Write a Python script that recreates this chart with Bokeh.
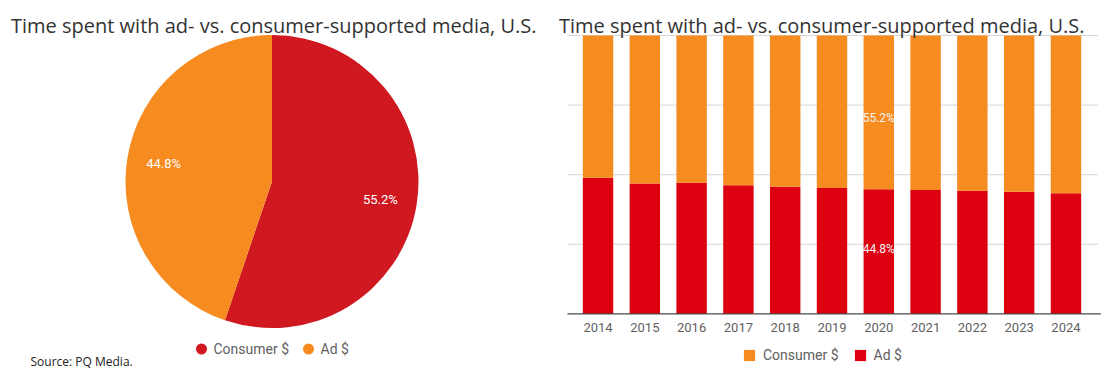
import math
from bokeh.plotting import figure
from bokeh.models import (Range1d, FactorRange, Label, Legend, LegendItem,
                          ColumnDataSource)
from bokeh.layouts import row
from bokeh.embed import file_html
from bokeh.resources import INLINE
from bokeh.core.properties import value

# ---------------- data ----------------
title_text = "Time spent with ad- vs. consumer-supported media, U.S."
source_text = "Source: PQ Media."

pie_labels = ["Consumer $", "Ad $"]
pie_values = [55.2, 44.8]
pie_colors = ["#CF1820", "#F68B1F"]

years = ["2014", "2015", "2016", "2017", "2018", "2019", "2020", "2021", "2022", "2023", "2024"]
ad_share = [48.9, 46.8, 47.1, 46.2, 45.7, 45.2, 44.8, 44.5, 44.2, 43.9, 43.3]
consumer_share = [51.1, 53.2, 52.9, 53.8, 54.3, 54.8, 55.2, 55.5, 55.8, 56.1, 56.7]
grid_ticks = [25, 50, 75, 100]
bar_labels = ["Consumer $", "Ad $"]
bar_colors = ["#F68B1F", "#DC0010"]
labelled_year = "2020"

ROBOTO = value("Roboto")
H = 375

# ---------------- left: pie ----------------
p1 = figure(width=555, height=H, x_range=Range1d(0, 555), y_range=Range1d(0, H),
            output_backend="svg", toolbar_location=None, x_axis_location=None,
            y_axis_location=None, min_border=0, outline_line_color=None)
p1.grid.visible = False

cx, cy, rad = 271.5, H - 181.0, 146.5
total = sum(pie_values)
start = math.pi / 2
starts, ends, mids = [], [], []
for v in pie_values:
    sweep = 2 * math.pi * v / total
    starts.append(start)
    ends.append(start - sweep)
    mids.append(start - sweep / 2)
    start -= sweep

pie_src = ColumnDataSource(dict(x=[cx] * len(pie_values), y=[cy] * len(pie_values),
                                start=starts, end=ends, color=pie_colors,
                                lx=[cx + 0.75 * rad * math.cos(m) for m in mids],
                                ly=[cy + 0.75 * rad * math.sin(m) for m in mids],
                                txt=[f"{v}%" for v in pie_values]))
p1.wedge(x="x", y="y", radius=rad, radius_units="screen", start_angle="start",
         end_angle="end", direction="clock", fill_color="color", line_color=None,
         source=pie_src)
p1.text(x="lx", y="ly", text="txt", source=pie_src, text_color="white",
        text_font=ROBOTO, text_font_size="13px", text_align="center",
        text_baseline="middle")

# pie legend
leg_x = [201, 308]
leg_src = ColumnDataSource(dict(x=leg_x, y=[H - 348.5] * 2, color=pie_colors,
                                tx=[x + 12 for x in leg_x], label=pie_labels))
p1.scatter(x="x", y="y", size=11, marker="circle", fill_color="color",
           line_color=None, source=leg_src)
p1.text(x="tx", y="y", text="label", source=leg_src, text_color="#616161",
        text_font=ROBOTO, text_font_size="14px", text_baseline="middle")

p1.add_layout(Label(x=10.5, y=H - 25, text=title_text, text_font="Open Sans",
                    text_font_size="20px", text_color="#333333",
                    text_baseline="alphabetic"))
p1.add_layout(Label(x=30, y=H - 361, text=source_text, text_font="Open Sans",
                    text_font_size="12px", text_color="#222222",
                    text_baseline="middle"))

# ---------------- right: stacked bars ----------------
W2 = 553
frame_l, frame_r = 558.0 - 555, 1105.0 - 555      # frame edges inside this canvas
first_c, step = 597.5 - 555, 46.75                 # first bar centre, category step
pad = (first_c - frame_l) / step - 0.5
top_px, base_px = 35.0, 313.4                      # canvas rows of 100 % and 0 %
px_per = (base_px - top_px) / 100.0
y0 = -(H - base_px) / px_per
y1 = 100 + top_px / px_per
gx0 = -pad + (567 - 555 - frame_l) / step           # grid line extent (synthetic x)
gx1 = -pad + (1097 - 555 - frame_l) / step

p2 = figure(width=W2, height=H,
            x_range=FactorRange(factors=years, range_padding=pad,
                                range_padding_units="absolute"),
            y_range=Range1d(y0, y1), output_backend="svg", toolbar_location=None,
            x_axis_location=None, y_axis_location=None,
            min_border_left=int(frame_l), min_border_right=int(W2 - frame_r),
            min_border_top=0, min_border_bottom=0, outline_line_color=None)
p2.grid.visible = False

# horizontal grid lines
p2.segment(x0=[gx0] * len(grid_ticks), x1=[gx1] * len(grid_ticks),
           y0=grid_ticks, y1=grid_ticks, line_color="#d6d6d6", line_width=1)

bar_src = ColumnDataSource(dict(year=years, ad=ad_share, consumer=consumer_share))
rs = p2.vbar_stack(["ad", "consumer"], x="year", width=0.65,
                   color=[bar_colors[1], bar_colors[0]], line_color=None,
                   source=bar_src)

# baseline (axis line) and year labels
p2.segment(x0=[gx0], x1=[gx1 + 0.06], y0=[0], y1=[0], line_color="#4a4a4a",
           line_width=1.3)
p2.text(x=years, y=[0] * len(years), text=years, y_offset=14,
        text_color="#616161", text_font=ROBOTO, text_font_size="13px",
        text_align="center", text_baseline="middle")

idx = years.index(labelled_year)
a, c = ad_share[idx], consumer_share[idx]
lab_src = ColumnDataSource(dict(x=[labelled_year, labelled_year],
                                y=[a / 2, a + c / 2],
                                txt=[f"{a}%", f"{c}%"],
                                yo=[-3, 6]))
p2.text(x="x", y="y", text="txt", y_offset="yo", source=lab_src,
        text_color="#f4f4f4", text_font=ROBOTO, text_font_size="12px",
        text_align="center", text_baseline="middle")

legend = Legend(items=[LegendItem(label=bar_labels[0], renderers=[rs[1]]),
                       LegendItem(label=bar_labels[1], renderers=[rs[0]])],
                location=(742 - 555 - frame_l, 12), orientation="horizontal",
                glyph_width=14, glyph_height=14, label_standoff=7, spacing=14,
                padding=0, margin=0, border_line_color=None,
                background_fill_alpha=0, label_text_font="Roboto",
                label_text_font_size="14px", label_text_color="#616161")
p2.add_layout(legend)

p2.add_layout(Label(x=558.5 - 555 - frame_l, y=H - 25, x_units="screen",
                    y_units="screen", text=title_text, text_font="Open Sans",
                    text_font_size="20px", text_color="#333333",
                    text_baseline="alphabetic"))

layout = row(p1, p2)
open("out.html", "w").write(file_html(layout, INLINE))
